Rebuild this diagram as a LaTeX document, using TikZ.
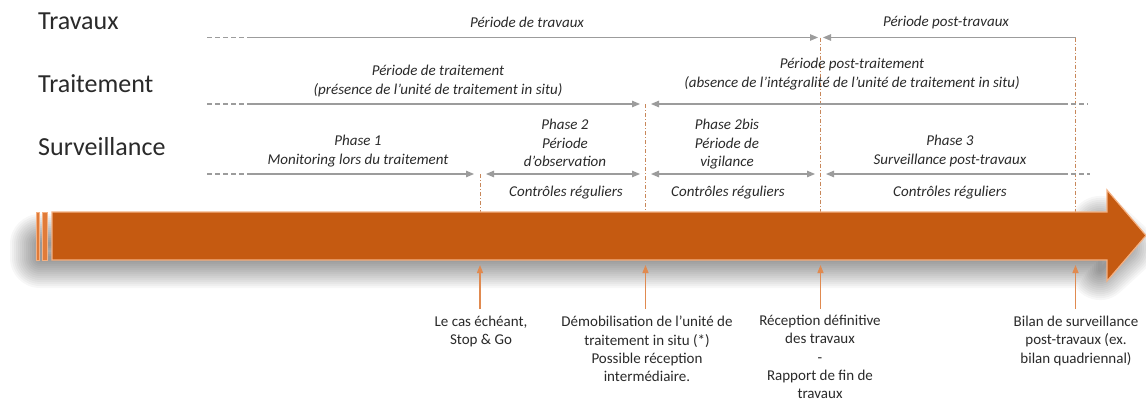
\documentclass[tikz,border=0pt]{standalone}
\usepackage{fontspec}
\setmainfont{Carlito}
\usetikzlibrary{arrows.meta}
\definecolor{band}{HTML}{C55A11}
\definecolor{bandlight}{HTML}{F4B183}
\definecolor{stripe}{HTML}{E07B39}
\definecolor{gline}{HTML}{9C9C9C}
\definecolor{vdash}{HTML}{C8875A}
\definecolor{upar}{HTML}{E08A50}
\definecolor{txt}{HTML}{2A2A2A}
\tikzset{
  rowlab/.style={anchor=base west, font=\fontsize{26}{30}\selectfont, text=txt, inner sep=0},
  ital/.style={anchor=north, font=\fontsize{15}{18.5}\selectfont\itshape, align=center, text=txt, inner sep=0},
  blab/.style={anchor=north, font=\fontsize{15}{18.3}\selectfont, align=center, text=txt, inner sep=0},
  gl/.style={draw=gline, line width=1.1pt},
  gdash/.style={gl, dash pattern=on 5pt off 3pt},
  garr/.style={gl, -{Triangle[length=8pt,width=6.5pt]}},
  gboth/.style={gl, {Triangle[length=8pt,width=6.5pt]}-{Triangle[length=8pt,width=6.5pt]}},
  vd/.style={draw=vdash, line width=0.8pt, dash pattern=on 4pt off 2pt on 1pt off 2pt},
  upa/.style={draw=upar, line width=1.3pt, -{Triangle[length=8pt,width=6pt]}},
}
\begin{document}
\begin{tikzpicture}[x=1pt,y=-1pt]
\useasboundingbox (0,0) rectangle (1146,405);
\fill[white] (0,0) rectangle (1146,405);

% ---- soft shadow of the band (strokes only, hidden core under the band)
\foreach \w in {60,56,...,4} {
  \path[draw=black, draw opacity=0.03, line width=\w pt, line join=round]
    (40,244) -- (1100,244) -- (1100,226) -- (1124,248) -- (1100,270) -- (1100,258) -- (40,258) -- cycle;
}

% ---- coordinates
\coordinate (tA) at (207,37.5);  \coordinate (tB) at (247,37.5);
\coordinate (tC) at (818,37.5);  \coordinate (tD) at (823,37.5);
\coordinate (tE) at (1075.5,37.5);
\coordinate (rA) at (207,104);   \coordinate (rB) at (247,104);
\coordinate (rC) at (640,104);   \coordinate (rD) at (651,104);
\coordinate (rE) at (1063,104);  \coordinate (rF) at (1088,104);
\coordinate (sA) at (207,174);   \coordinate (sB) at (247,174);
\coordinate (sC) at (474,174);   \coordinate (sD) at (486,174);
\coordinate (sE) at (640,174);   \coordinate (sF) at (651,174);
\coordinate (sG) at (815,174);   \coordinate (sH) at (826,174);
\coordinate (sI) at (1063,174);  \coordinate (sJ) at (1090,174);
\coordinate (v1t) at (480,174);    \coordinate (v1b) at (480,212);
\coordinate (v2t) at (645.5,104);  \coordinate (v2b) at (645.5,212);
\coordinate (v3t) at (820.5,37.5); \coordinate (v3b) at (820.5,212);
\coordinate (v4t) at (1075.5,37.5);\coordinate (v4b) at (1075.5,212);
\coordinate (u1) at (480,309);    \coordinate (a1) at (480,265);
\coordinate (u2) at (645.5,309);  \coordinate (a2) at (645.5,265);
\coordinate (u3) at (820.5,309);  \coordinate (a3) at (820.5,265);
\coordinate (u4) at (1075.5,309); \coordinate (a4) at (1075.5,265);

% ---- vertical dashed separators
\draw[vd] (v1t) -- (v1b);
\draw[vd] (v2t) -- (v2b);
\draw[vd] (v3t) -- (v3b);
\draw[vd] (v4t) -- (v4b);

% ---- Travaux row
\draw[gdash] (tA) -- (tB);
\draw[garr] (tB) -- (tC);
\draw[garr] (tE) -- (tD);
% ---- Traitement row
\draw[gdash] (rA) -- (rB);
\draw[garr] (rB) -- (rC);
\draw[garr] (rE) -- (rD);
\draw[gdash] (rE) -- (rF);
% ---- Surveillance row
\draw[gdash] (sA) -- (sB);
\draw[garr] (sB) -- (sC);
\draw[gboth] (sD) -- (sE);
\draw[gboth] (sF) -- (sG);
\draw[garr] (sI) -- (sH);
\draw[gdash] (sI) -- (sJ);

% ---- band arrow
\filldraw[fill=band, draw=bandlight, line width=1.2pt, line join=miter]
  (52,212) -- (1107,212) -- (1107,190) -- (1146,235.5) -- (1107,281) -- (1107,260) -- (52,260) -- cycle;
\filldraw[fill=stripe, draw=bandlight, line width=0.8pt] (36,212.5) rectangle (39.5,260.5);
\filldraw[fill=stripe, draw=bandlight, line width=0.8pt] (42.5,212.5) rectangle (47.5,260.5);

% ---- up arrows
\draw[upa] (u1) -- (a1);
\draw[upa] (u2) -- (a2);
\draw[upa] (u3) -- (a3);
\draw[upa] (u4) -- (a4);

% ---- row labels
\node[rowlab] (lTrav) at (38,29) {Travaux};
\node[rowlab] (lTrait) at (38,92) {Traitement};
\node[rowlab] (lSurv) at (38,155) {Surveillance};

% ---- period texts
\node[ital] (pTrav) at (527,17) {Période de travaux};
\node[ital] (pPost) at (946,16) {Période post-travaux};
\node[ital] (pTrait) at (438,65) {Période de traitement\\(présence de l’unité de traitement in situ)};
\node[ital] (pPostT) at (852,58) {Période post-traitement\\(absence de l’intégralité de l’unité de traitement in situ)};
\node[ital] (ph1) at (358,135) {Phase 1\\Monitoring lors du traitement};
\node[ital] (ph2) at (565,119) {Phase 2\\Période\\d’observation};
\node[ital] (ph2b) at (727,119) {Phase 2bis\\Période de\\vigilance};
\node[ital] (ph3) at (950,135) {Phase 3\\Surveillance post-travaux};
\node[ital] (c1) at (566,186) {Contrôles réguliers};
\node[ital] (c2) at (728,186) {Contrôles réguliers};
\node[ital] (c3) at (950,186) {Contrôles réguliers};

% ---- bottom labels
\node[blab] (b1) at (481,316) {Le cas échéant,\\Stop \& Go};
\node[blab] (b2) at (647,316) {Démobilisation de l’unité de\\traitement in situ (*)\\Possible réception\\intermédiaire.};
\node[blab] (b3) at (820,315) {Réception définitive\\des travaux\\-\\Rapport de fin de\\travaux};
\node[blab] (b4) at (1076,316) {Bilan de surveillance\\post-travaux (ex.\\bilan quadriennal)};
\end{tikzpicture}
\end{document}
